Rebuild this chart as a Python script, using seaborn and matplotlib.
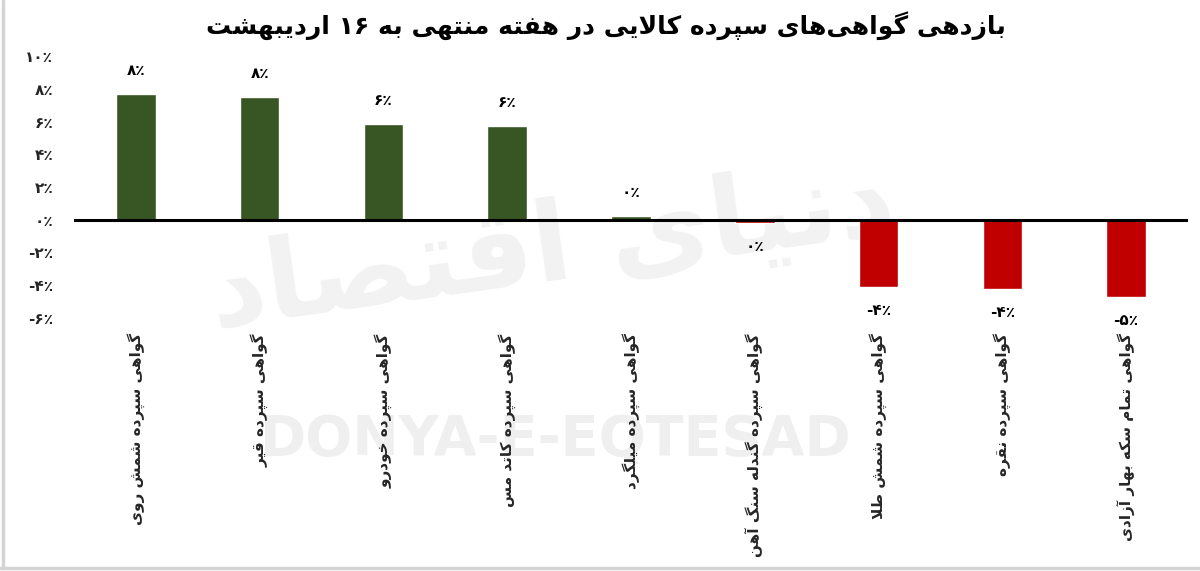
import re
import matplotlib
matplotlib.use("Agg")
import matplotlib.pyplot as plt
import seaborn as sns
import pandas as pd
from matplotlib.lines import Line2D

# ---------------- data ----------------
title = "بازدهی گواهی‌های سپرده کالایی در هفته منتهی به ۱۶ اردیبهشت"
categories = [
    "گواهی سپرده شمش روی",
    "گواهی سپرده قیر",
    "گواهی سپرده خودرو",
    "گواهی سپرده کاتد مس",
    "گواهی سپرده میلگرد",
    "گواهی سپرده گندله سنگ آهن",
    "گواهی سپرده شمش طلا",
    "گواهی سپرده نقره",
    "گواهی تمام سکه بهار آزادی",
]
values = [7.7, 7.5, 5.85, 5.7, 0.2, -0.2, -4.1, -4.2, -4.7]
yticks = [-6, -4, -2, 0, 2, 4, 6, 8, 10]
watermark_en = "DONYA-E-EQTESAD"
watermark_fa = "دنیای اقتصاد"

POS_COLOR = "#375623"
NEG_COLOR = "#C00000"

# ---------------- minimal Persian shaping ----------------
FORMS = {  # isolated, final, initial, medial
    "ا": (0xFE8D, 0xFE8E, None, None), "آ": (0xFE81, 0xFE82, None, None),
    "ب": (0xFE8F, 0xFE90, 0xFE91, 0xFE92), "پ": (0xFB56, 0xFB57, 0xFB58, 0xFB59),
    "ت": (0xFE95, 0xFE96, 0xFE97, 0xFE98), "ث": (0xFE99, 0xFE9A, 0xFE9B, 0xFE9C),
    "ج": (0xFE9D, 0xFE9E, 0xFE9F, 0xFEA0), "چ": (0xFB7A, 0xFB7B, 0xFB7C, 0xFB7D),
    "ح": (0xFEA1, 0xFEA2, 0xFEA3, 0xFEA4), "خ": (0xFEA5, 0xFEA6, 0xFEA7, 0xFEA8),
    "د": (0xFEA9, 0xFEAA, None, None), "ذ": (0xFEAB, 0xFEAC, None, None),
    "ر": (0xFEAD, 0xFEAE, None, None), "ز": (0xFEAF, 0xFEB0, None, None),
    "ژ": (0xFB8A, 0xFB8B, None, None),
    "س": (0xFEB1, 0xFEB2, 0xFEB3, 0xFEB4), "ش": (0xFEB5, 0xFEB6, 0xFEB7, 0xFEB8),
    "ص": (0xFEB9, 0xFEBA, 0xFEBB, 0xFEBC), "ض": (0xFEBD, 0xFEBE, 0xFEBF, 0xFEC0),
    "ط": (0xFEC1, 0xFEC2, 0xFEC3, 0xFEC4), "ظ": (0xFEC5, 0xFEC6, 0xFEC7, 0xFEC8),
    "ع": (0xFEC9, 0xFECA, 0xFECB, 0xFECC), "غ": (0xFECD, 0xFECE, 0xFECF, 0xFED0),
    "ف": (0xFED1, 0xFED2, 0xFED3, 0xFED4), "ق": (0xFED5, 0xFED6, 0xFED7, 0xFED8),
    "ک": (0xFB8E, 0xFB8F, 0xFB90, 0xFB91), "گ": (0xFB92, 0xFB93, 0xFB94, 0xFB95),
    "ل": (0xFEDD, 0xFEDE, 0xFEDF, 0xFEE0), "م": (0xFEE1, 0xFEE2, 0xFEE3, 0xFEE4),
    "ن": (0xFEE5, 0xFEE6, 0xFEE7, 0xFEE8), "ه": (0xFEE9, 0xFEEA, 0xFEEB, 0xFEEC),
    "و": (0xFEED, 0xFEEE, None, None), "ی": (0xFBFC, 0xFBFD, 0xFBFE, 0xFBFF),
}
LAMALEF = {"ا": (0xFEFB, 0xFEFC), "آ": (0xFEF5, 0xFEF6)}


def dual(c):
    return c in FORMS and FORMS[c][2] is not None


def shape(text):
    chars = list(text)
    n = len(chars)
    out = []
    i = 0
    while i < n:
        c = chars[i]
        if c == "\u200c":
            i += 1
            continue
        if c not in FORMS:
            out.append(c)
            i += 1
            continue
        prev = chars[i - 1] if i > 0 else None
        jp = prev is not None and dual(prev)
        if c == "ل" and i + 1 < n and chars[i + 1] in LAMALEF:
            iso, fin = LAMALEF[chars[i + 1]]
            out.append(chr(fin if jp else iso))
            i += 2
            continue
        nxt = chars[i + 1] if i + 1 < n else None
        jn = dual(c) and nxt is not None and nxt in FORMS
        iso, fin, ini, med = FORMS[c]
        if jp and jn:
            code = med
        elif jp:
            code = fin
        elif jn:
            code = ini
        else:
            code = iso
        out.append(chr(code))
        i += 1
    vis = "".join(out)[::-1]
    vis = re.sub(r"[۰-۹]+", lambda m: m.group(0)[::-1], vis)
    return vis


FA_DIG = str.maketrans("0123456789", "۰۱۲۳۴۵۶۷۸۹")


def fa_pct(v):
    r = int(abs(v) + 0.5)
    s = str(r).translate(FA_DIG) + "٪"
    return ("-" + s) if (v < 0 and r != 0) else s


# ---------------- plot ----------------
sns.set_theme(style="white")
plt.rcParams["font.family"] = ["DejaVu Sans"]

W, H = 1200, 571
fig = plt.figure(figsize=(W / 100, H / 100), dpi=100)
fig.patch.set_facecolor("white")

ax = fig.add_axes([74 / W, 1 - 318 / H, (1188 - 74) / W, (318 - 56) / H])
ax.set_facecolor("none")

df = pd.DataFrame({"cat": categories, "val": values})
colors = [POS_COLOR if v >= 0 else NEG_COLOR for v in values]
sns.barplot(data=df, x="cat", y="val", hue="cat", palette=colors,
            legend=False, width=0.32, ax=ax, saturation=1, order=categories)

ax.set_ylim(-6, 10)
ax.set_xlim(-0.5, len(categories) - 0.5)
ax.axhline(0, color="black", lw=2.2, zorder=5)
for s in ax.spines.values():
    s.set_visible(False)
ax.set_xlabel("")
ax.set_ylabel("")
ax.grid(False)

ax.set_yticks(yticks)
ax.set_yticklabels([fa_pct(t) for t in yticks], fontsize=11, fontweight="bold")
ax.tick_params(axis="y", length=0, pad=15)
ax.set_xticks(range(len(categories)))
ax.set_xticklabels([shape(c) for c in categories], rotation=90, fontsize=11,
                   fontweight="bold", va="top", ha="center")
ax.tick_params(axis="x", length=0, pad=11)

for i, v in enumerate(values):
    off = 17 if v >= 0 else -17
    ax.annotate(fa_pct(v), (i, v), xytext=(0, off), textcoords="offset points",
                ha="center", va="center", fontsize=11, fontweight="bold",
                color="black")

fig.text(0.505, 0.955, shape(title), ha="center", va="center",
         fontsize=18, fontweight="bold", color="black")

# watermarks
fig.text(0.463, 1 - 440 / H, watermark_en, ha="center", va="center",
         fontsize=40, fontweight="bold", color="#efefef", zorder=-1)
fig.text(0.46, 1 - 250 / H, shape(watermark_fa), ha="center", va="center",
         fontsize=80, fontweight="bold", color="#f2f2f2", zorder=-1,
         rotation=8)

# frame lines (left and bottom)
fig.add_artist(Line2D([2.5 / W, 2.5 / W], [3 / H, 1], color="#d4d4d4", lw=2.5,
                      transform=fig.transFigure))
fig.add_artist(Line2D([0, 1], [3 / H, 3 / H], color="#d4d4d4", lw=2.5,
                      transform=fig.transFigure))

fig.savefig("out.png", dpi=100)
